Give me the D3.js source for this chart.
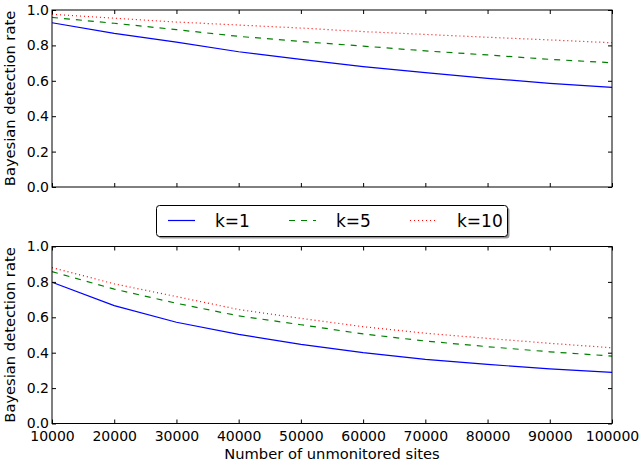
<!DOCTYPE html>
<html>
<head>
<meta charset="utf-8">
<script src="https://cdn.jsdelivr.net/npm/d3@7"></script>
<style>
body { margin: 0; background: #fff; }
svg { font-family: "DejaVu Sans", sans-serif; }
</style>
</head>
<body>
<svg width="643" height="464"></svg>
<script>
var sites = [10000, 20000, 30000, 40000, 50000, 60000, 70000, 80000, 90000, 100000];
var xTicks = [10000, 20000, 30000, 40000, 50000, 60000, 70000, 80000, 90000, 100000];
var yTicks = [0.0, 0.2, 0.4, 0.6, 0.8, 1.0];

// top panel
var topK1 = [0.928, 0.868, 0.818, 0.764, 0.721, 0.680, 0.646, 0.614, 0.586, 0.563];
var topK5 = [0.958, 0.925, 0.889, 0.851, 0.822, 0.796, 0.769, 0.746, 0.721, 0.702];
var topK10 = [0.976, 0.954, 0.932, 0.915, 0.898, 0.878, 0.862, 0.846, 0.831, 0.815];

// bottom panel
var botK1 = [0.798, 0.666, 0.572, 0.504, 0.447, 0.400, 0.362, 0.334, 0.309, 0.289];
var botK5 = [0.858, 0.759, 0.679, 0.608, 0.558, 0.506, 0.466, 0.434, 0.405, 0.381];
var botK10 = [0.881, 0.789, 0.717, 0.644, 0.594, 0.547, 0.510, 0.481, 0.453, 0.428];

var seriesNames = ['k=1', 'k=5', 'k=10'];
var colors = ['#0000ff', '#008000', '#ff0000'];
var dashes = [null, '6,6', '1,3'];

var svg = d3.select('svg');
var left = 52, right = 612;

var x = d3.scaleLinear().domain([10000, 100000]).range([left, right]);

function panel(top, bottom, data, showXLabels) {
	var y = d3.scaleLinear().domain([0, 1]).range([bottom, top]);
	var g = svg.append('g');

	var line = d3.line()
		.x(function(d, i) { return x(sites[i]); })
		.y(function(d) { return y(d); });

	data.forEach(function(s, i) {
		g.append('path')
			.attr('d', line(s))
			.attr('fill', 'none')
			.attr('stroke', colors[i])
			.attr('stroke-width', 1.2)
			.attr('stroke-dasharray', dashes[i]);
	});

	// axes with inward ticks on all sides
	var axL = d3.axisLeft(y).tickValues(yTicks).tickSizeInner(-4).tickSizeOuter(0).tickPadding(3)
		.tickFormat(d3.format('.1f'));
	var axR = d3.axisRight(y).tickValues(yTicks).tickSizeInner(-4).tickSizeOuter(0).tickFormat('');
	var axB = d3.axisBottom(x).tickValues(xTicks).tickSizeInner(-4).tickSizeOuter(0).tickPadding(7.5)
		.tickFormat(showXLabels ? d3.format('d') : '');
	var axT = d3.axisTop(x).tickValues(xTicks).tickSizeInner(-4).tickSizeOuter(0).tickFormat('');

	g.append('g').attr('transform', 'translate(' + left + ',0)').call(axL);
	g.append('g').attr('transform', 'translate(' + right + ',0)').call(axR);
	g.append('g').attr('transform', 'translate(0,' + bottom + ')').call(axB);
	g.append('g').attr('transform', 'translate(0,' + top + ')').call(axT);

	g.selectAll('.domain').remove();
	g.selectAll('.tick line').attr('stroke', '#000').attr('stroke-width', 1);
	g.selectAll('.tick text').attr('fill', '#000').style('font-size', '14px').style('font-family', 'DejaVu Sans');

	g.append('rect')
		.attr('x', left).attr('y', top)
		.attr('width', right - left).attr('height', bottom - top)
		.attr('fill', 'none').attr('stroke', '#000').attr('stroke-width', 1);

	g.append('text')
		.attr('transform', 'translate(15,' + ((top + bottom) / 2) + ') rotate(-90)')
		.attr('text-anchor', 'middle')
		.style('font-size', '14.7px')
		.text('Bayesian detection rate');
}

panel(10, 187, [topK1, topK5, topK10], false);
panel(246.5, 423.5, [botK1, botK5, botK10], true);

svg.append('text')
	.attr('x', (left + right) / 2).attr('y', 459)
	.attr('text-anchor', 'middle')
	.style('font-size', '14.7px')
	.text('Number of unmonitored sites');

// legend
var lg = svg.append('g');
lg.append('rect')
	.attr('x', 158.5).attr('y', 207.5).attr('width', 351).attr('height', 31).attr('rx', 3)
	.attr('fill', '#999');
lg.append('rect')
	.attr('x', 156.5).attr('y', 205.5).attr('width', 351).attr('height', 31).attr('rx', 3)
	.attr('fill', '#fff').attr('stroke', '#000').attr('stroke-width', 1);

var legX = [168, 289, 410];
seriesNames.forEach(function(n, i) {
	lg.append('line')
		.attr('x1', legX[i]).attr('x2', legX[i] + 27)
		.attr('y1', 220.5).attr('y2', 220.5)
		.attr('stroke', colors[i]).attr('stroke-width', 1.2)
		.attr('stroke-dasharray', dashes[i]);
	lg.append('text')
		.attr('x', legX[i] + 47).attr('y', 226.5)
		.style('font-size', '17px')
		.text(n);
});
</script>
</body>
</html>
